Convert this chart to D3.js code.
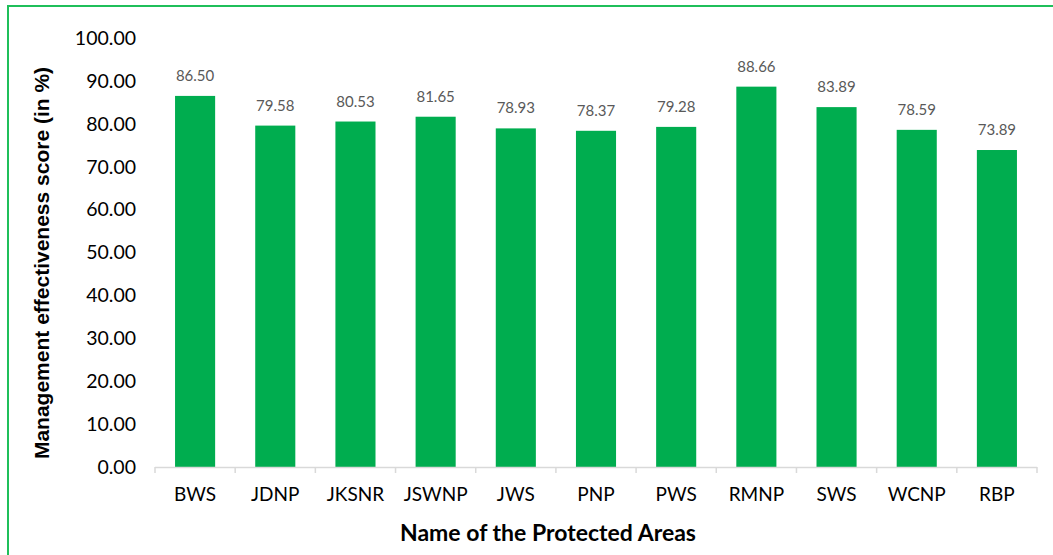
<!DOCTYPE html>
<html>
<head>
<meta charset="utf-8">
<script src="https://cdn.jsdelivr.net/npm/d3@7"></script>
<style>
  body { margin: 0; background: #fff; }
  svg { display: block; }
  .tick-label { font-family: 'Lato', 'DejaVu Sans', sans-serif; fill: #000; }
</style>
</head>
<body>
<div class="chart"></div>
<script>
'use strict';

const areas = ['BWS', 'JDNP', 'JKSNR', 'JSWNP', 'JWS', 'PNP', 'PWS', 'RMNP', 'SWS', 'WCNP', 'RBP'];
const scores = [86.50, 79.58, 80.53, 81.65, 78.93, 78.37, 79.28, 88.66, 83.89, 78.59, 73.89];
const yTicks = [0, 10, 20, 30, 40, 50, 60, 70, 80, 90, 100];

const WIDTH = 1053;
const HEIGHT = 555;
const margin = {top: 38, left: 155, right: 16, bottom: 88};

const svg = d3.select('.chart')
  .append('svg')
    .attr('width', WIDTH)
    .attr('height', HEIGHT);

// green frame, runs off the right and bottom edges
svg.append('rect')
  .attr('x', 8)
  .attr('y', 6)
  .attr('width', WIDTH + 20)
  .attr('height', HEIGHT + 20)
  .attr('fill', 'none')
  .attr('stroke', '#1fbf5a')
  .attr('stroke-width', 2);

const x = d3.scaleBand()
  .domain(areas)
  .range([margin.left, WIDTH - margin.right])
  .paddingInner(0.5)
  .paddingOuter(0.25);

const y = d3.scaleLinear()
  .domain([0, 100])
  .range([HEIGHT - margin.bottom, margin.top]);

const baseY = y(0);

// y tick labels (no axis line)
svg.append('g')
  .selectAll('text')
  .data(yTicks)
  .enter().append('text')
    .attr('class', 'tick-label')
    .attr('x', 136)
    .attr('y', (d) => y(d))
    .attr('dy', '0.35em')
    .attr('text-anchor', 'end')
    .style('font-size', '19.5px')
    .text((d) => d3.format('.2f')(d));

// bars
svg.append('g')
  .selectAll('rect')
  .data(areas)
  .enter().append('rect')
    .attr('x', (d) => x(d))
    .attr('y', (d, i) => y(scores[i]))
    .attr('width', x.bandwidth())
    .attr('height', (d, i) => baseY - y(scores[i]))
    .attr('fill', '#00ad4f');

// data labels
svg.append('g')
  .selectAll('text')
  .data(areas)
  .enter().append('text')
    .attr('x', (d) => x(d) + x.bandwidth() / 2)
    .attr('y', (d, i) => y(scores[i]) - 15)
    .attr('text-anchor', 'middle')
    .style('font-family', "'Lato', 'DejaVu Sans', sans-serif")
    .style('font-size', '15px')
    .style('fill', '#595959')
    .text((d, i) => d3.format('.2f')(scores[i]));

// x axis line with category boundary ticks
const step = x.step();
const xAxis = svg.append('g');
xAxis.append('line')
  .attr('x1', margin.left)
  .attr('x2', WIDTH - margin.right)
  .attr('y1', baseY + 0.5)
  .attr('y2', baseY + 0.5)
  .attr('stroke', '#d9d9d9')
  .attr('stroke-width', 1.5);

xAxis.selectAll('.bound')
  .data(d3.range(areas.length + 1))
  .enter().append('line')
    .attr('class', 'bound')
    .attr('x1', (i) => margin.left + i * step)
    .attr('x2', (i) => margin.left + i * step)
    .attr('y1', baseY)
    .attr('y2', baseY + 6)
    .attr('stroke', '#d9d9d9')
    .attr('stroke-width', 1.5);

xAxis.selectAll('.tick-label')
  .data(areas)
  .enter().append('text')
    .attr('class', 'tick-label')
    .attr('x', (d) => x(d) + x.bandwidth() / 2)
    .attr('y', baseY + 27)
    .attr('dy', '0.35em')
    .attr('text-anchor', 'middle')
    .style('font-size', '19px')
    .text((d) => d);

// axis titles
svg.append('text')
  .attr('x', 548)
  .attr('y', 541)
  .attr('text-anchor', 'middle')
  .style('font-family', "'Lato', 'DejaVu Sans', sans-serif")
  .style('font-weight', 'bold')
  .style('font-size', '23px')
  .text('Name of the Protected Areas');

svg.append('text')
  .attr('transform', 'translate(49,263) rotate(-90)')
  .attr('text-anchor', 'middle')
  .style('font-family', "'Liberation Sans', Arial, sans-serif")
  .style('font-weight', 'bold')
  .style('font-size', '21px')
  .text('Management effectiveness score (in %)');
</script>
</body>
</html>
